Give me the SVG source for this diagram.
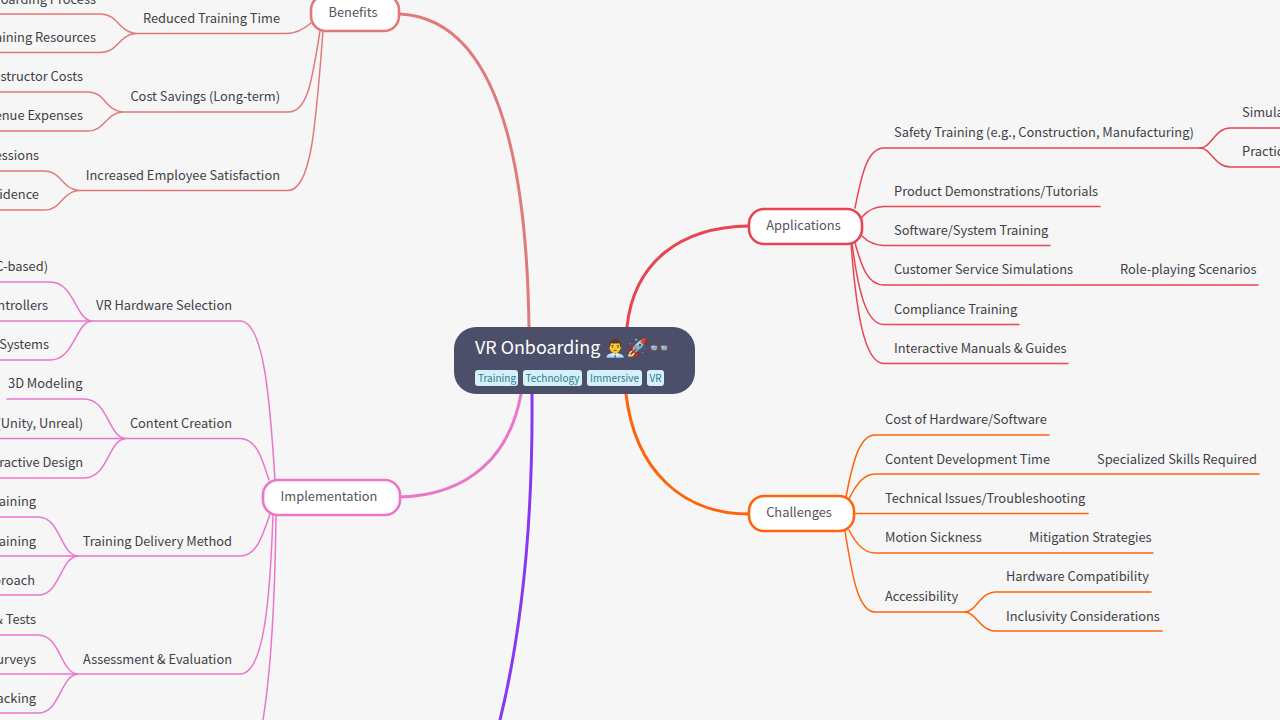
<svg xmlns="http://www.w3.org/2000/svg" width="1280" height="720" viewBox="0 0 1280 720">
<style>
text{font-family:"Noto Sans CJK SC","Noto Sans",sans-serif;font-size:12.85px;fill:#3f3f46}
.e{text-anchor:end}
.c{text-anchor:middle;fill:#55555c}
path{fill:none;stroke-linecap:round}
.ap{stroke:#e64553}.ch{stroke:#fe640b}.im{stroke:#ea76cb}.be{stroke:#e07a7a}
.sub{stroke-width:1.5}
.main{stroke-width:3}
.topic{fill:#fff;stroke-width:2.6}
.tag{fill:#d4f1f9}
.tagt{font-size:10px;fill:#2f7a92;text-anchor:middle}
</style>
<rect width="1280" height="720" fill="#f6f6f6"/>
<g id="connectors">
<path class="be main" d="M400 14C478 18 526 110 529 327"/>
<path class="ap main" d="M627 327C634 262 680 227 749 226"/>
<path class="ch main" d="M626 394C635 470 682 514 749 514"/>
<path class="im main" d="M400 497C470 495 510 455 521 394"/>
<path d="M532 394C533 520 522 630 500 720" stroke="#8839ef" stroke-width="3"/>
<g>
<path class="ap sub" d="M855 208C862 172 868 148 884 148H1200"/>
<path class="ap sub" d="M1200 148C1211 148 1215 128 1230 128H1280"/>
<path class="ap sub" d="M1200 148C1211 148 1215 167 1230 167H1280"/>
<path class="ap sub" d="M862 217C868 210 875 206.500 884 206.500H1100"/>
<path class="ap sub" d="M862 236C868 242 875 245.500 884 245.500H1050"/>
<path class="ap sub" d="M855 243C862 268 868 285 884 285H1258"/>
<path class="ap sub" d="M852 243C858 290 866 324.500 884 324.500H1019"/>
<path class="ap sub" d="M851 243C856 310 864 363.500 884 363.500H1068"/>
</g>
<g>
<path class="ch sub" d="M846 497C853 460 860 435 875 435H1049"/>
<path class="ch sub" d="M849 499C856 484 864 474 875 474H1259"/>
<path class="ch sub" d="M855 513.500H1088"/>
<path class="ch sub" d="M849 530C856 544 864 553 875 553H1153"/>
<path class="ch sub" d="M845 531C852 575 858 612 875 612H965"/>
<path class="ch sub" d="M965 612C976 612 980 592 996 592H1151"/>
<path class="ch sub" d="M965 612C976 612 980 631 996 631H1162"/>
</g>
<g>
<path class="im sub" d="M275 480C270 400 264 321 240 321H91"/>
<path class="im sub" d="M91 321C75 318 74 282 50 282H0"/>
<path class="im sub" d="M91 321H0"/>
<path class="im sub" d="M91 321C75 324 74 360 50 360H0"/>
<path class="im sub" d="M269 480C262 458 256 438.500 240 438.500H125"/>
<path class="im sub" d="M125 438.500C108 436 108 399 84 399H7"/>
<path class="im sub" d="M125 438.500H0"/>
<path class="im sub" d="M125 438.500C108 441 108 478 84 478H0"/>
<path class="im sub" d="M270 514C262 538 256 556 240 556H77"/>
<path class="im sub" d="M77 556C60 553 60 517 38 517H0"/>
<path class="im sub" d="M77 556H0"/>
<path class="im sub" d="M77 556C60 559 60 595 38 595H0"/>
<path class="im sub" d="M273 515C270 600 264 674 240 674H77"/>
<path class="im sub" d="M77 674C60 671 60 635 38 635H0"/>
<path class="im sub" d="M77 674H0"/>
<path class="im sub" d="M77 674C60 677 60 713 38 713H0"/>
<path class="im sub" d="M276 515C275 600 271 670 263 720"/>
</g>
<g>
<path class="be sub" d="M311 23C303 30 296 33.500 286 33.500H135"/>
<path class="be sub" d="M135 33.500C118 31 118 14 100 14H0"/>
<path class="be sub" d="M135 33.500C118 36 118 52.500 100 52.500H0"/>
<path class="be sub" d="M320 31C312 80 308 112 288 112H122"/>
<path class="be sub" d="M122 112C105 110 105 92 88 92H0"/>
<path class="be sub" d="M122 112C105 114 105 131 88 131H0"/>
<path class="be sub" d="M323 31C316 120 312 190.500 288 190.500H78"/>
<path class="be sub" d="M78 190.500C61 188 61 171 45 171H0"/>
<path class="be sub" d="M78 190.500C61 193 61 210 45 210H0"/>
</g>
</g>
<g id="root">
<rect x="454" y="327" width="241" height="67" rx="22" fill="#4c4f69"/>
<text x="475" y="354" style="font-size:17.9px;fill:#fff">VR Onboarding 👨‍💼🚀👓</text>
<rect class="tag" x="475" y="370" width="43" height="16" rx="3"/><text class="tagt" x="497" y="382">Training</text>
<rect class="tag" x="523" y="370" width="59" height="16" rx="3"/><text class="tagt" x="552.500" y="382">Technology</text>
<rect class="tag" x="587" y="370" width="55" height="16" rx="3"/><text class="tagt" x="614.500" y="382">Immersive</text>
<rect class="tag" x="647" y="370" width="17" height="16" rx="3"/><text class="tagt" x="655.500" y="382">VR</text>
</g>
<g id="benefits">
<rect class="topic be" x="311" y="-5" width="88" height="36" rx="15"/><text class="c" x="353" y="17">Benefits</text>
<text class="e" x="280" y="23">Reduced Training Time</text>
<text class="e" x="96" y="4">oarding Process</text>
<text class="e" x="96" y="42">aining Resources</text>
<text class="e" x="280" y="101">Cost Savings (Long-term)</text>
<text class="e" x="83" y="81">structor Costs</text>
<text class="e" x="83" y="120">enue Expenses</text>
<text class="e" x="280" y="180">Increased Employee Satisfaction</text>
<text class="e" x="39" y="160">essions</text>
<text class="e" x="39" y="199">idence</text>
</g>
<g id="applications">
<rect class="topic ap" x="749" y="209" width="113" height="35" rx="15"/><text class="c" x="803.500" y="230">Applications</text>
<text x="894" y="137">Safety Training (e.g., Construction, Manufacturing)</text>
<text x="1242" y="117">Simula</text>
<text x="1242" y="156">Practic</text>
<text x="894" y="196">Product Demonstrations/Tutorials</text>
<text x="894" y="235">Software/System Training</text>
<text x="894" y="274">Customer Service Simulations</text>
<text x="1120" y="274">Role-playing Scenarios</text>
<text x="894" y="314">Compliance Training</text>
<text x="894" y="353">Interactive Manuals &amp; Guides</text>
</g>
<g id="challenges">
<rect class="topic ch" x="749" y="496" width="105" height="35" rx="15"/><text class="c" x="799" y="517">Challenges</text>
<text x="885" y="424">Cost of Hardware/Software</text>
<text x="885" y="464">Content Development Time</text>
<text x="1097" y="464">Specialized Skills Required</text>
<text x="885" y="503">Technical Issues/Troubleshooting</text>
<text x="885" y="542">Motion Sickness</text>
<text x="1029" y="542">Mitigation Strategies</text>
<text x="885" y="601">Accessibility</text>
<text x="1006" y="581">Hardware Compatibility</text>
<text x="1006" y="621">Inclusivity Considerations</text>
</g>
<g id="implementation">
<rect class="topic im" x="263" y="480" width="137" height="35" rx="15"/><text class="c" x="329" y="501">Implementation</text>
<text class="e" x="232" y="310">VR Hardware Selection</text>
<text class="e" x="48" y="271">C-based)</text>
<text class="e" x="48" y="310">ntrollers</text>
<text class="e" x="49" y="349">Systems</text>
<text class="e" x="232" y="428">Content Creation</text>
<text x="8" y="388">3D Modeling</text>
<text class="e" x="83" y="428">(Unity, Unreal)</text>
<text class="e" x="83" y="467">ractive Design</text>
<text class="e" x="232" y="546">Training Delivery Method</text>
<text class="e" x="36" y="506">aining</text>
<text class="e" x="36" y="546">aining</text>
<text class="e" x="35" y="585">proach</text>
<text class="e" x="232" y="664">Assessment &amp; Evaluation</text>
<text class="e" x="36" y="624">&amp; Tests</text>
<text class="e" x="36" y="664">urveys</text>
<text class="e" x="36" y="703">acking</text>
</g>
</svg>
